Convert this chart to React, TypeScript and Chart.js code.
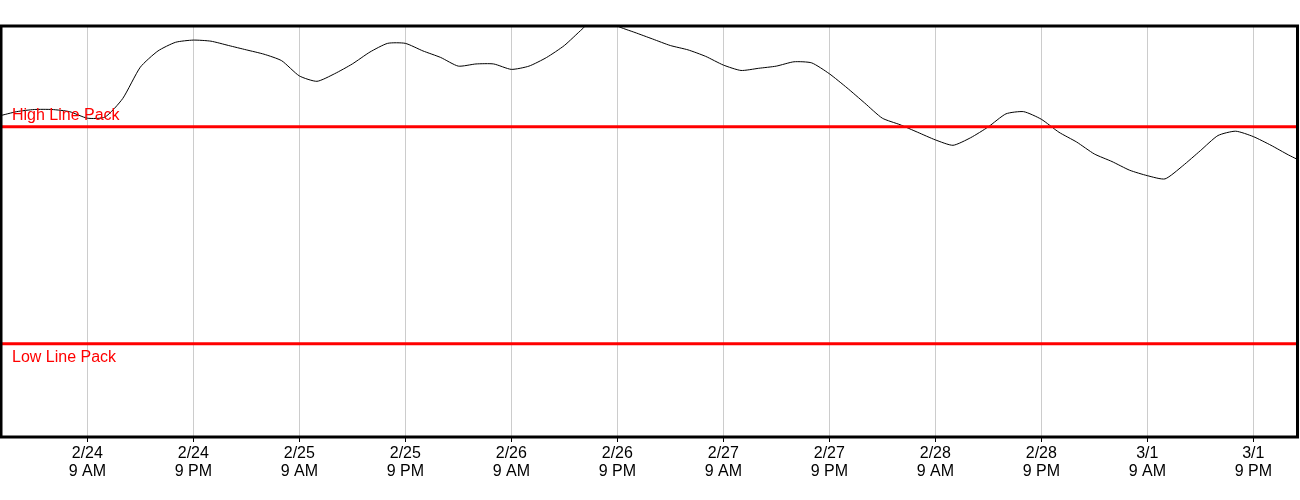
import React, { useEffect, useRef } from "react";
import { Chart, registerables } from "chart.js";

Chart.register(...registerables);

// Hours measured from 2/24 00:00
const HOURS = [
  -1, 1, 3, 5, 7, 9, 11, 13, 15, 17, 19, 21, 23, 25, 27, 29, 31, 33, 35, 37,
  39, 41, 43, 45, 47, 49, 51, 53, 55, 57, 59, 61, 63, 65, 67, 69, 71, 73, 75,
  77, 79, 81, 83, 85, 87, 89, 91, 93, 95, 97, 99, 101, 103, 105, 107, 109,
  111, 113, 115, 117, 119, 121, 123, 125, 127, 129, 131, 133, 135, 137, 139,
  141, 143, 145, 147,
];

const LINE_PACK = [
  2110, 2114, 2116, 2116, 2114, 2108, 2109, 2126, 2155, 2170, 2178, 2180, 2179,
  2175, 2171, 2167, 2161, 2147, 2142, 2149, 2158, 2169, 2177, 2177, 2170, 2164,
  2156, 2158, 2158, 2153, 2156, 2164, 2175, 2190, 2204, 2193, 2187, 2181, 2175,
  2171, 2165, 2157, 2152, 2154, 2156, 2160, 2159, 2149, 2136, 2122, 2108, 2102,
  2095, 2088, 2083, 2090, 2100, 2112, 2114, 2107, 2095, 2086, 2075, 2068, 2060,
  2055, 2052, 2064, 2078, 2092, 2096, 2091, 2083, 2074, 2066,
];

const HIGH_LINE_PACK = 2100;
const LOW_LINE_PACK = 1900;
const HIGH_LABEL = "High Line Pack";
const LOW_LABEL = "Low Line Pack";

const TICK_HOURS = [9, 21, 33, 45, 57, 69, 81, 93, 105, 117, 129, 141];
const TICK_LABELS = [
  ["2/24", "9 AM"],
  ["2/24", "9 PM"],
  ["2/25", "9 AM"],
  ["2/25", "9 PM"],
  ["2/26", "9 AM"],
  ["2/26", "9 PM"],
  ["2/27", "9 AM"],
  ["2/27", "9 PM"],
  ["2/28", "9 AM"],
  ["2/28", "9 PM"],
  ["3/1", "9 AM"],
  ["3/1", "9 PM"],
];

const X_MIN = -0.77;
const X_MAX = 146;
const Y_MIN = 1814;
const Y_MAX = 2193;

const FONT = "'Liberation Sans', Arial, Helvetica, sans-serif";

const framePlugin = {
  id: "frame",
  afterDatasetsDraw(chart: any) {
    const { ctx } = chart;
    const y = chart.scales.y;
    const left = chart.chartArea.left;
    ctx.save();
    ctx.fillStyle = "#ff0000";
    ctx.font = `16px ${FONT}`;
    ctx.textAlign = "left";
    ctx.textBaseline = "alphabetic";
    ctx.fillText(HIGH_LABEL, left + 11, y.getPixelForValue(HIGH_LINE_PACK) - 7);
    ctx.fillText(LOW_LABEL, left + 11, y.getPixelForValue(LOW_LINE_PACK) + 18);
    ctx.restore();
  },
  afterDraw(chart: any) {
    const { ctx } = chart;
    const { left, top, right, bottom } = chart.chartArea;
    ctx.save();
    ctx.strokeStyle = "#000";
    ctx.lineWidth = 3;
    ctx.strokeRect(left, top, right - left, bottom - top);
    ctx.restore();
  },
};

export default function App() {
  const ref = useRef<HTMLCanvasElement | null>(null);

  useEffect(() => {
    if (!ref.current) return;
    const chart = new Chart(ref.current, {
      type: "line",
      data: {
        datasets: [
          {
            label: HIGH_LABEL,
            data: [
              { x: X_MIN - 2, y: HIGH_LINE_PACK },
              { x: X_MAX + 2, y: HIGH_LINE_PACK },
            ],
            borderColor: "#ff0000",
            borderWidth: 3,
            pointRadius: 0,
          },
          {
            label: LOW_LABEL,
            data: [
              { x: X_MIN - 2, y: LOW_LINE_PACK },
              { x: X_MAX + 2, y: LOW_LINE_PACK },
            ],
            borderColor: "#ff0000",
            borderWidth: 3,
            pointRadius: 0,
          },
          {
            label: "Line Pack",
            data: HOURS.map((h, i) => ({ x: h, y: LINE_PACK[i] })),
            borderColor: "#000000",
            borderWidth: 1,
            pointRadius: 0,
            tension: 0.2,
          },
        ],
      },
      options: {
        responsive: false,
        animation: false,
        devicePixelRatio: 1,
        layout: { padding: { left: 1, right: 2.5, top: 26, bottom: 0 } },
        plugins: {
          legend: { display: false },
          tooltip: { enabled: false },
        },
        scales: {
          x: {
            type: "linear",
            min: X_MIN,
            max: X_MAX,
            afterBuildTicks: (scale: any) => {
              scale.ticks = TICK_HOURS.map((v) => ({ value: v }));
            },
            afterFit: (scale: any) => {
              scale.height = 63;
            },
            ticks: {
              autoSkip: false,
              maxRotation: 0,
              minRotation: 0,
              padding: 2,
              color: "#000",
              font: { size: 16, family: FONT, lineHeight: 1.15 },
              callback: (_v: any, i: number) => TICK_LABELS[i],
            },
            grid: {
              color: "#cccccc",
              lineWidth: 1,
              tickColor: "#000",
              tickLength: 5,
              drawTicks: true,
            },
            border: { display: false },
          },
          y: {
            display: false,
            min: Y_MIN,
            max: Y_MAX,
          },
        },
      },
      plugins: [framePlugin],
    });
    return () => chart.destroy();
  }, []);

  return (
    <div style={{ position: "absolute", left: 0, top: 0, width: 1300, height: 500 }}>
      <canvas ref={ref} width={1300} height={500} />
    </div>
  );
}
